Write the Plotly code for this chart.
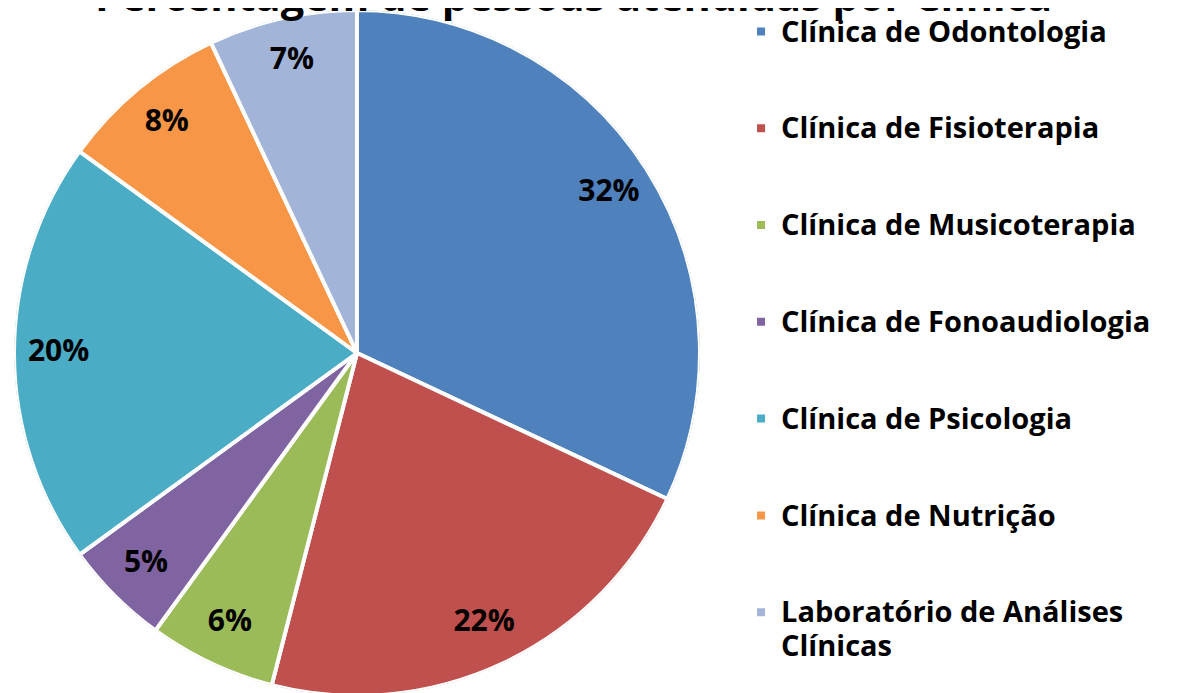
import plotly.graph_objects as go

labels = ["Clínica de Odontologia", "Clínica de Fisioterapia", "Clínica de Musicoterapia",
          "Clínica de Fonoaudiologia", "Clínica de Psicologia", "Clínica de Nutrição",
          "Laboratório de Análises<br>Clínicas"]
values = [32, 22, 6, 5, 20, 8, 7]
colors = ["#4F81BD", "#C0504D", "#9BBB59", "#8064A2", "#4BACC6", "#F79646", "#A2B5D8"]
title = "Percentagem de pessoas atendidas por Clínica"

FONT = "Open Sans"
total = sum(values)
mids, widths = [], []
acc = 0
for v in values:
    mids.append((acc + v / 2) / total * 360)
    widths.append(v / total * 360)
    acc += v
pct_text = [f"{round(v / total * 100)}%" for v in values]

dom_x = [0.00504, 0.58151]
dom_y = [0.00722, 0.99711]

def big(s):
    return "<br>".join(f"<span style='font-size:29px'>{p}</span>" for p in s.split("<br>"))

fig = go.Figure()
for i, lab in enumerate(labels):
    fig.add_trace(go.Barpolar(
        r=[1], theta=[mids[i]], width=[widths[i]], name=big(lab), legendgroup=f"g{i}",
        marker=dict(color=colors[i], line=dict(color="white", width=4)),
        hovertemplate=f"{lab}: {pct_text[i]}<extra></extra>",
    ))
fig.add_trace(go.Scatterpolar(
    r=[0.87] * len(values), theta=mids, mode="text", text=pct_text,
    textfont=dict(family=FONT, size=30, color="black", weight="bold"),
    showlegend=False, hoverinfo="skip",
))
fig.update_layout(
    width=1190, height=693,
    margin=dict(l=0, r=0, t=0, b=0),
    paper_bgcolor="white", plot_bgcolor="white",
    polar=dict(domain=dict(x=dom_x, y=dom_y), bgcolor="rgba(0,0,0,0)", bargap=0,
               radialaxis=dict(visible=False, range=[0, 1]),
               angularaxis=dict(visible=False, rotation=90, direction="clockwise")),
    legend=dict(x=0.616, xanchor="left", y=1.0, yanchor="top", tracegroupgap=60,
                maxheight=760,
                font=dict(family=FONT, size=26, color="black", weight="bold"),
                bgcolor="rgba(0,0,0,0)", valign="top"),
    annotations=[dict(text=f"<b>{title}</b>", xref="paper", yref="paper", x=0.475, y=1.0,
                      xanchor="center", yanchor="middle", yshift=13, showarrow=False,
                      font=dict(family=FONT, size=41.5, color="black"))],
)
fig.write_html("out.html")
